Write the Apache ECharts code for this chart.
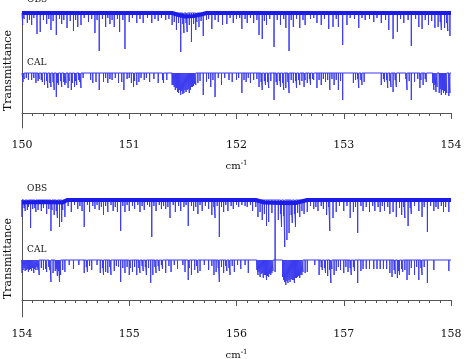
<!DOCTYPE html>
<html>
<head>
<meta charset="utf-8">
<script src="https://cdn.jsdelivr.net/npm/echarts@6/dist/echarts.min.js"></script>
<style>
  html, body { margin: 0; padding: 0; background: #fff; }
  #chart { width: 466px; height: 359px; }
</style>
</head>
<body>
<div id="chart"></div>
<script>
// wavenumber ranges of the two panels (cm-1)
const topRange = [150, 154];
const bottomRange = [154, 158];

// observed continuum knots [wavenumber, transmittance]
const obsTopContinuum = [[150, 1.0], [151.40, 1.0], [151.46, 0.98], [151.52, 0.965], [151.60, 0.97], [151.67, 0.985], [151.72, 1.0], [154, 1.0]];
const obsBottomContinuum = [[154, 0.975], [154.2, 0.98], [154.38, 0.975], [154.42, 1.0], [156.18, 1.0], [156.26, 0.975], [156.42, 0.97], [156.55, 0.97], [156.66, 1.0], [158, 1.0]];

// stronger absorption lines [wavenumber, transmittance at line centre]
const obsTop = [
  [150.006, 0.88], [150.05, 0.90], [150.09, 0.88], [150.14, 0.79], [150.17, 0.81], [150.23, 0.89], [150.27, 0.83], [150.32, 0.78],
  [150.37, 0.89], [150.42, 0.85], [150.48, 0.82], [150.52, 0.86], [150.55, 0.88], [150.62, 0.91], [150.68, 0.80], [150.72, 0.62],
  [150.78, 0.86], [150.82, 0.89], [150.86, 0.86], [150.91, 0.81], [150.96, 0.64], [151.00, 0.91], [151.07, 0.90], [151.13, 0.90],
  [151.21, 0.90], [151.27, 0.92], [151.34, 0.93], [151.40, 0.88], [151.44, 0.83], [151.48, 0.61], [151.51, 0.80], [151.54, 0.81],
  [151.58, 0.71], [151.62, 0.83], [151.65, 0.86], [151.69, 0.77], [151.77, 0.84], [151.83, 0.91], [151.87, 0.88], [151.91, 0.89],
  [151.97, 0.90], [152.05, 0.84], [152.10, 0.90], [152.16, 0.90], [152.21, 0.78], [152.24, 0.74], [152.28, 0.88], [152.35, 0.66],
  [152.41, 0.88], [152.46, 0.85], [152.49, 0.62], [152.53, 0.86], [152.59, 0.85], [152.64, 0.88], [152.69, 0.94], [152.75, 0.90],
  [152.79, 0.88], [152.86, 0.84], [152.90, 0.86], [152.95, 0.86], [152.99, 0.68], [153.03, 0.88], [153.14, 0.85], [153.20, 0.93],
  [153.28, 0.91], [153.35, 0.90], [153.42, 0.83], [153.46, 0.74], [153.50, 0.81], [153.56, 0.90], [153.63, 0.67], [153.70, 0.86],
  [153.73, 0.84], [153.79, 0.88], [153.85, 0.85], [153.88, 0.86], [153.91, 0.83], [153.94, 0.85], [153.97, 0.82], [153.99, 0.77]
];
// weak lines hanging just below the noisy OBS band
const obsTopWeak = [
  [150.02, 0.94], [150.07, 0.93], [150.11, 0.95], [150.20, 0.93], [150.25, 0.94], [150.29, 0.92], [150.35, 0.94], [150.39, 0.93],
  [150.45, 0.92], [150.50, 0.93], [150.58, 0.95], [150.65, 0.94], [150.70, 0.93], [150.75, 0.94], [150.80, 0.95], [150.84, 0.93],
  [150.89, 0.94], [150.94, 0.93], [151.03, 0.95], [151.10, 0.94], [151.17, 0.95], [151.24, 0.94], [151.30, 0.95], [151.37, 0.94],
  [151.42, 0.91], [151.46, 0.90], [151.50, 0.89], [151.53, 0.90], [151.56, 0.88], [151.60, 0.89], [151.63, 0.91], [151.67, 0.92],
  [151.72, 0.93], [151.74, 0.94], [151.80, 0.93], [151.94, 0.95], [152.00, 0.94], [152.03, 0.95], [152.08, 0.94], [152.13, 0.95],
  [152.19, 0.93], [152.26, 0.92], [152.31, 0.94], [152.38, 0.93], [152.44, 0.94], [152.51, 0.93], [152.56, 0.94], [152.62, 0.93],
  [152.72, 0.95], [152.82, 0.94], [152.93, 0.94], [153.06, 0.95], [153.10, 0.94], [153.17, 0.95], [153.24, 0.94], [153.31, 0.95],
  [153.39, 0.93], [153.53, 0.94], [153.60, 0.93], [153.67, 0.94], [153.76, 0.93], [153.82, 0.92], [153.90, 0.91], [153.96, 0.90]
];
const calTop = [
  [150.01, 0.91], [150.04, 0.95], [150.09, 0.93], [150.13, 0.90], [150.18, 0.93], [150.21, 0.88], [150.24, 0.85], [150.27, 0.86],
  [150.30, 0.83], [150.32, 0.76], [150.34, 0.88], [150.37, 0.86], [150.40, 0.88], [150.43, 0.85], [150.46, 0.83], [150.49, 0.86],
  [150.51, 0.88], [150.54, 0.91], [150.55, 0.85], [150.64, 0.93], [150.66, 0.90], [150.69, 0.91], [150.72, 0.83], [150.76, 0.91],
  [150.80, 0.90], [150.84, 0.93], [150.90, 0.90], [150.93, 0.91], [150.95, 0.83], [151.02, 0.90], [151.04, 0.86], [151.07, 0.88],
  [151.09, 0.91], [151.14, 0.93], [151.19, 0.91], [151.27, 0.90], [151.31, 0.93], [151.32, 0.90], [151.35, 0.93], [151.40, 0.88],
  [151.42, 0.86], [151.43, 0.83], [151.45, 0.81], [151.46, 0.80], [151.48, 0.78], [151.50, 0.79], [151.51, 0.80], [151.53, 0.81],
  [151.54, 0.83], [151.56, 0.80], [151.57, 0.83], [151.59, 0.86], [151.60, 0.87], [151.62, 0.88], [151.64, 0.90], [151.69, 0.78],
  [151.72, 0.91], [151.76, 0.86], [151.80, 0.76], [151.86, 0.88], [151.93, 0.93], [151.96, 0.91], [152.00, 0.93], [152.05, 0.80],
  [152.09, 0.91], [152.13, 0.90], [152.16, 0.93], [152.21, 0.86], [152.24, 0.83], [152.27, 0.88], [152.30, 0.85], [152.35, 0.73],
  [152.38, 0.88], [152.41, 0.86], [152.44, 0.83], [152.46, 0.85], [152.49, 0.80], [152.53, 0.90], [152.56, 0.85], [152.59, 0.88],
  [152.63, 0.86], [152.66, 0.90], [152.69, 0.88], [152.72, 0.93], [152.75, 0.85], [152.79, 0.88], [152.83, 0.91], [152.87, 0.83],
  [152.91, 0.88], [152.95, 0.83], [152.99, 0.73], [153.09, 0.90], [153.11, 0.93], [153.14, 0.85], [153.17, 0.88], [153.19, 0.91],
  [153.35, 0.88], [153.38, 0.91], [153.41, 0.85], [153.44, 0.86], [153.46, 0.81], [153.49, 0.86], [153.52, 0.91], [153.59, 0.83],
  [153.63, 0.73], [153.66, 0.91], [153.71, 0.85], [153.74, 0.88], [153.77, 0.91], [153.84, 0.83], [153.86, 0.81], [153.89, 0.80],
  [153.91, 0.78], [153.93, 0.80], [153.95, 0.78], [153.98, 0.77]
];
const calTopWeak = [
  [150.02, 0.94], [150.06, 0.93], [150.11, 0.95], [150.15, 0.92], [150.16, 0.94], [150.19, 0.91], [150.23, 0.92], [150.26, 0.90],
  [150.29, 0.91], [150.33, 0.90], [150.36, 0.92], [150.39, 0.91], [150.41, 0.90], [150.44, 0.92], [150.47, 0.90], [150.50, 0.92],
  [150.53, 0.93], [150.57, 0.95], [150.78, 0.95], [150.82, 0.94], [150.87, 0.95], [150.98, 0.94], [151.00, 0.95], [151.05, 0.92],
  [151.11, 0.95], [151.16, 0.95], [151.23, 0.94], [151.41, 0.88], [151.44, 0.85], [151.47, 0.83], [151.49, 0.82], [151.52, 0.83],
  [151.55, 0.84], [151.58, 0.86], [151.61, 0.89], [151.66, 0.92], [151.74, 0.94], [151.78, 0.93], [151.83, 0.95], [151.89, 0.95],
  [152.02, 0.95], [152.07, 0.93], [152.11, 0.95], [152.19, 0.94], [152.23, 0.91], [152.26, 0.92], [152.29, 0.91], [152.32, 0.92],
  [152.37, 0.91], [152.40, 0.92], [152.43, 0.90], [152.48, 0.91], [152.51, 0.93], [152.55, 0.92], [152.58, 0.93], [152.61, 0.92],
  [152.64, 0.93], [152.68, 0.94], [152.71, 0.94], [152.77, 0.93], [152.81, 0.94], [152.85, 0.93], [152.89, 0.94], [152.93, 0.93],
  [152.97, 0.92], [153.13, 0.94], [153.16, 0.93], [153.37, 0.94], [153.40, 0.93], [153.43, 0.92], [153.48, 0.93], [153.58, 0.94],
  [153.61, 0.92], [153.69, 0.94], [153.72, 0.93], [153.76, 0.94], [153.83, 0.90], [153.85, 0.88], [153.87, 0.86], [153.90, 0.84],
  [153.92, 0.83], [153.94, 0.82], [153.96, 0.80], [153.99, 0.80]
];
const obsBottom = [
  [154.00, 0.83], [154.03, 0.89], [154.08, 0.72], [154.13, 0.88], [154.18, 0.89], [154.23, 0.86], [154.27, 0.69], [154.30, 0.85],
  [154.33, 0.82], [154.35, 0.73], [154.37, 0.78], [154.40, 0.83], [154.46, 0.88], [154.52, 0.91], [154.56, 0.89], [154.58, 0.73],
  [154.63, 0.88], [154.68, 0.91], [154.72, 0.90], [154.76, 0.85], [154.80, 0.88], [154.85, 0.89], [154.89, 0.88], [154.92, 0.69],
  [154.96, 0.88], [155.00, 0.89], [155.05, 0.91], [155.10, 0.88], [155.14, 0.90], [155.21, 0.63], [155.25, 0.89], [155.30, 0.91],
  [155.34, 0.91], [155.38, 0.82], [155.43, 0.88], [155.48, 0.89], [155.55, 0.74], [155.60, 0.89], [155.64, 0.86], [155.68, 0.89],
  [155.74, 0.91], [155.77, 0.85], [155.80, 0.82], [155.84, 0.63], [155.88, 0.88], [155.92, 0.89], [155.97, 0.91], [156.02, 0.93],
  [156.10, 0.93], [156.15, 0.89], [156.20, 0.83], [156.24, 0.80], [156.28, 0.74], [156.30, 0.78], [156.36, 0.40], [156.39, 0.80],
  [156.42, 0.73], [156.45, 0.53], [156.47, 0.60], [156.49, 0.67], [156.52, 0.77], [156.55, 0.73], [156.59, 0.83], [156.63, 0.86],
  [156.66, 0.88], [156.72, 0.91], [156.76, 0.89], [156.81, 0.91], [156.84, 0.85], [156.87, 0.69], [156.90, 0.82], [156.93, 0.88],
  [157.00, 0.89], [157.06, 0.82], [157.09, 0.88], [157.13, 0.67], [157.18, 0.89], [157.24, 0.88], [157.29, 0.89], [157.34, 0.88],
  [157.38, 0.89], [157.43, 0.86], [157.46, 0.88], [157.49, 0.83], [157.54, 0.85], [157.57, 0.82], [157.60, 0.74], [157.63, 0.86],
  [157.70, 0.89], [157.73, 0.83], [157.78, 0.68], [157.84, 0.89], [157.88, 0.91], [157.93, 0.88], [157.98, 0.88]
];
const obsBottomWeak = [
  [154.02, 0.92], [154.05, 0.90], [154.06, 0.93], [154.10, 0.91], [154.12, 0.92], [154.15, 0.90], [154.20, 0.92], [154.25, 0.91],
  [154.28, 0.90], [154.32, 0.89], [154.38, 0.90], [154.43, 0.94], [154.49, 0.95], [154.54, 0.94], [154.61, 0.95], [154.66, 0.94],
  [154.70, 0.95], [154.74, 0.93], [154.78, 0.94], [154.83, 0.95], [154.87, 0.93], [154.94, 0.94], [154.98, 0.95], [155.03, 0.94],
  [155.08, 0.95], [155.12, 0.94], [155.17, 0.95], [155.19, 0.93], [155.23, 0.94], [155.28, 0.95], [155.32, 0.94], [155.36, 0.93],
  [155.41, 0.95], [155.46, 0.94], [155.51, 0.93], [155.53, 0.95], [155.58, 0.94], [155.62, 0.93], [155.66, 0.95], [155.71, 0.94],
  [155.79, 0.93], [155.82, 0.94], [155.86, 0.93], [155.90, 0.95], [155.95, 0.94], [156.00, 0.95], [156.05, 0.95], [156.08, 0.94],
  [156.13, 0.95], [156.18, 0.93], [156.22, 0.88], [156.26, 0.86], [156.33, 0.87], [156.41, 0.86], [156.44, 0.84], [156.51, 0.85],
  [156.54, 0.86], [156.57, 0.87], [156.61, 0.89], [156.69, 0.94], [156.74, 0.93], [156.79, 0.94], [156.86, 0.93], [156.96, 0.94],
  [157.03, 0.94], [157.11, 0.93], [157.16, 0.94], [157.21, 0.93], [157.27, 0.94], [157.32, 0.93], [157.36, 0.94], [157.41, 0.93],
  [157.52, 0.92], [157.56, 0.93], [157.62, 0.92], [157.66, 0.94], [157.75, 0.93], [157.81, 0.94], [157.86, 0.93], [157.91, 0.94],
  [157.95, 0.93]
];
const calBottom = [
  [154.00, 0.87], [154.03, 0.89], [154.04, 0.90], [154.06, 0.88], [154.08, 0.91], [154.09, 0.89], [154.11, 0.87], [154.13, 0.90],
  [154.16, 0.85], [154.20, 0.90], [154.23, 0.88], [154.27, 0.78], [154.29, 0.87], [154.31, 0.89], [154.33, 0.84], [154.35, 0.78],
  [154.36, 0.85], [154.38, 0.90], [154.40, 0.88], [154.48, 0.91], [154.58, 0.87], [154.61, 0.88], [154.65, 0.90], [154.73, 0.87],
  [154.76, 0.85], [154.78, 0.88], [154.80, 0.87], [154.83, 0.85], [154.86, 0.89], [154.92, 0.78], [154.96, 0.87], [155.00, 0.85],
  [155.03, 0.88], [155.07, 0.85], [155.10, 0.87], [155.13, 0.89], [155.16, 0.85], [155.20, 0.77], [155.22, 0.85], [155.25, 0.87],
  [155.28, 0.89], [155.31, 0.91], [155.34, 0.87], [155.39, 0.88], [155.45, 0.91], [155.52, 0.88], [155.55, 0.80], [155.58, 0.85],
  [155.61, 0.90], [155.64, 0.87], [155.66, 0.89], [155.74, 0.90], [155.79, 0.85], [155.81, 0.88], [155.84, 0.78], [155.88, 0.87],
  [155.91, 0.89], [155.94, 0.85], [155.98, 0.88], [156.04, 0.91], [156.11, 0.87], [156.19, 0.90], [156.20, 0.85], [156.22, 0.83],
  [156.24, 0.87], [156.25, 0.82], [156.27, 0.85], [156.28, 0.80], [156.30, 0.83], [156.32, 0.85], [156.33, 0.87], [156.36, 0.88],
  [156.43, 0.83], [156.45, 0.78], [156.46, 0.75], [156.48, 0.77], [156.50, 0.78], [156.52, 0.80], [156.54, 0.77], [156.56, 0.82],
  [156.57, 0.83], [156.59, 0.82], [156.61, 0.85], [156.64, 0.87], [156.66, 0.88], [156.73, 0.95], [156.77, 0.85], [156.80, 0.90],
  [156.83, 0.87], [156.85, 0.84], [156.88, 0.77], [156.91, 0.85], [156.93, 0.89], [156.97, 0.90], [157.00, 0.87], [157.04, 0.88],
  [157.07, 0.85], [157.10, 0.89], [157.13, 0.77], [157.16, 0.89], [157.18, 0.91], [157.21, 0.91], [157.24, 0.91], [157.28, 0.91],
  [157.31, 0.91], [157.34, 0.91], [157.37, 0.91], [157.40, 0.91], [157.43, 0.87], [157.45, 0.83], [157.48, 0.86], [157.50, 0.82],
  [157.52, 0.85], [157.55, 0.88], [157.59, 0.80], [157.61, 0.85], [157.66, 0.85], [157.70, 0.80], [157.73, 0.85], [157.78, 0.77],
  [157.84, 0.90], [157.98, 0.89]
];
const calBottomWeak = [
  [154.01, 0.90], [154.02, 0.92], [154.05, 0.91], [154.07, 0.90], [154.10, 0.92], [154.12, 0.91], [154.14, 0.93], [154.15, 0.90],
  [154.18, 0.92], [154.22, 0.91], [154.25, 0.93], [154.26, 0.90], [154.32, 0.91], [154.34, 0.89], [154.44, 0.95], [154.53, 0.95],
  [154.60, 0.93], [154.63, 0.94], [154.70, 0.95], [154.75, 0.92], [154.82, 0.93], [154.88, 0.94], [154.90, 0.93], [154.94, 0.92],
  [154.98, 0.93], [155.01, 0.92], [155.05, 0.93], [155.09, 0.92], [155.12, 0.94], [155.15, 0.93], [155.18, 0.92], [155.24, 0.93],
  [155.27, 0.94], [155.30, 0.95], [155.37, 0.94], [155.42, 0.95], [155.50, 0.95], [155.56, 0.92], [155.63, 0.94], [155.70, 0.95],
  [155.77, 0.94], [155.83, 0.92], [155.86, 0.93], [155.90, 0.94], [155.93, 0.92], [155.96, 0.94], [156.01, 0.95], [156.08, 0.95],
  [156.21, 0.88], [156.23, 0.86], [156.26, 0.85], [156.29, 0.84], [156.31, 0.86], [156.34, 0.89], [156.44, 0.80], [156.47, 0.79],
  [156.49, 0.80], [156.51, 0.81], [156.53, 0.80], [156.55, 0.82], [156.58, 0.84], [156.60, 0.85], [156.62, 0.88], [156.79, 0.93],
  [156.82, 0.92], [156.87, 0.90], [156.89, 0.91], [156.95, 0.93], [157.02, 0.93], [157.06, 0.92], [157.09, 0.93], [157.47, 0.90],
  [157.51, 0.89], [157.54, 0.91], [157.57, 0.90], [157.63, 0.92], [157.68, 0.93], [157.72, 0.92], [157.75, 0.93]
];

const calOffset = -0.6; // CAL trace is drawn below OBS
const blue = '#1c1ce8';
const serif = 'DejaVu Serif';

// turn line lists into a stick spectrum hanging from the continuum level 1
function sticks(lists, range, offset) {
  const sorted = [].concat(...lists).sort((a, b) => a[0] - b[0]);
  const pts = [[range[0], 1 + offset]];
  sorted.forEach(([nu, t]) => {
    pts.push([nu, 1 + offset], [nu, t + offset], [nu, 1 + offset]);
  });
  pts.push([range[1], 1 + offset]);
  return pts;
}

function lineSeries(idx, data, width, color) {
  return {
    type: 'line', xAxisIndex: idx, yAxisIndex: idx, data: data,
    showSymbol: false, symbol: 'none', clip: false, silent: true,
    lineStyle: { color: color || blue, width: width }
  };
}

function xAxisFor(idx, range) {
  return {
    type: 'value', gridIndex: idx, min: range[0], max: range[1], interval: 1,
    axisLine: { lineStyle: { color: '#555', width: 1 } },
    axisTick: { show: true, length: 6, inside: false, lineStyle: { color: '#555' } },
    minorTick: { show: true, splitNumber: 10, length: 3, lineStyle: { color: '#555' } },
    splitLine: { show: false },
    axisLabel: { color: '#111', fontFamily: serif, fontSize: 11, margin: 12 },
    name: '{b|cm}{s|-1}', nameLocation: 'middle', nameGap: 32,
    nameTextStyle: {
      rich: {
        b: { fontFamily: serif, fontSize: 10, color: '#111' },
        s: { fontFamily: serif, fontSize: 7, color: '#111', verticalAlign: 'top', padding: [0, 0, 6, 0] }
      }
    }
  };
}

function yAxisFor(idx, min) {
  return {
    type: 'value', gridIndex: idx, min: min, max: 1.0,
    axisLine: { show: true, onZero: false, lineStyle: { color: '#555', width: 1 } },
    axisTick: { show: false }, axisLabel: { show: false }, splitLine: { show: false },
    name: 'Transmittance', nameLocation: 'middle', nameGap: 8, nameRotate: 90,
    nameTextStyle: { fontFamily: serif, fontSize: 11, color: '#111' }
  };
}

const labelFont = '9px "DejaVu Serif"';
const chart = echarts.init(document.getElementById('chart'), null, { renderer: 'canvas' });
chart.setOption({
  animation: false,
  backgroundColor: '#fff',
  grid: [
    { left: 22, right: 15, top: 13, height: 115, containLabel: false, outerBoundsMode: 'none' },
    { left: 22, right: 15, top: 200, height: 117, containLabel: false, outerBoundsMode: 'none' }
  ],
  xAxis: [xAxisFor(0, topRange), xAxisFor(1, bottomRange)],
  yAxis: [yAxisFor(0, -0.15), yAxisFor(1, -0.17)],
  graphic: [
    { type: 'text', left: 27, top: -5, style: { text: 'OBS', font: labelFont, fill: '#111' } },
    { type: 'text', left: 27, top: 58, style: { text: 'CAL', font: labelFont, fill: '#111' } },
    { type: 'text', left: 27, top: 184, style: { text: 'OBS', font: labelFont, fill: '#111' } },
    { type: 'text', left: 27, top: 245, style: { text: 'CAL', font: labelFont, fill: '#111' } }
  ],
  series: [
    lineSeries(0, sticks([obsTop, obsTopWeak], topRange, 0), 1, '#3a3af0'),
    lineSeries(0, obsTopContinuum, 4),
    lineSeries(0, sticks([calTop, calTopWeak], topRange, calOffset), 1, '#3a3af0'),
    lineSeries(1, sticks([obsBottom, obsBottomWeak], bottomRange, 0), 1, '#3a3af0'),
    lineSeries(1, obsBottomContinuum, 4),
    lineSeries(1, sticks([calBottom, calBottomWeak], bottomRange, calOffset), 1, '#3a3af0')
  ]
});
</script>
</body>
</html>
